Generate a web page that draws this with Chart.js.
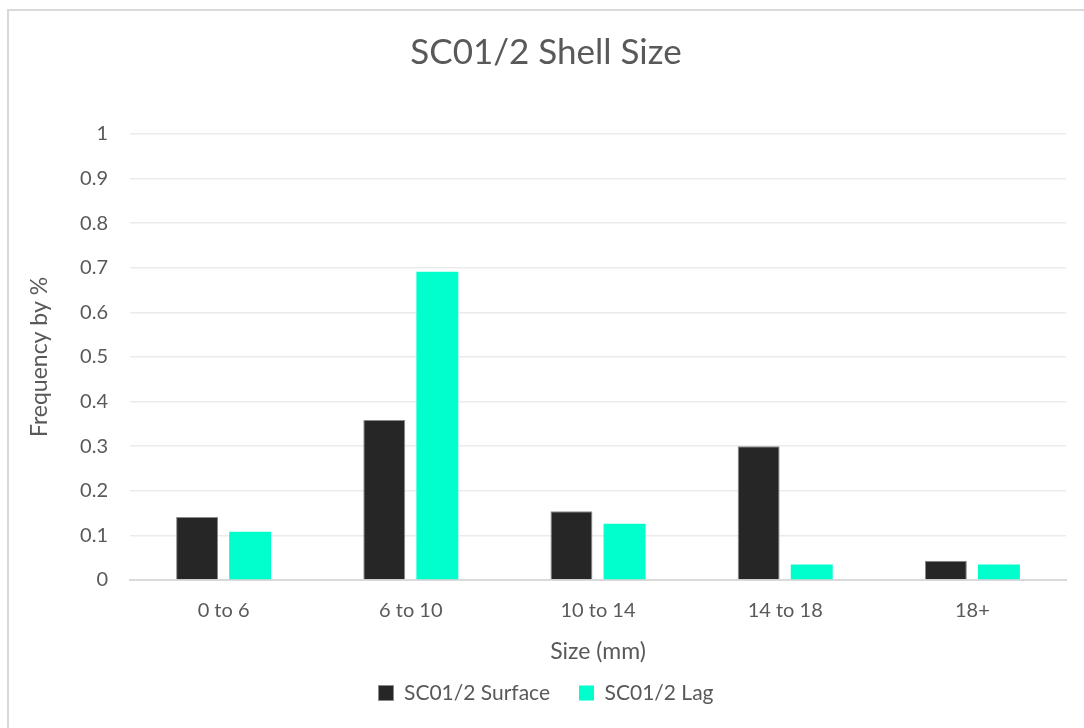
<!DOCTYPE html>
<html>
<head>
<meta charset="utf-8">
<script src="https://cdn.jsdelivr.net/npm/chart.js@4.4.1/dist/chart.umd.min.js"></script>
<style>
  html, body { margin: 0; padding: 0; background: #fff; }
  #wrap { position: relative; width: 1084px; height: 728px; overflow: hidden; }
  #frame { position: absolute; left: 7px; top: 9px; width: 1200px; height: 800px; border: 2px solid #d9d9d9; box-sizing: border-box; }
  canvas { position: absolute; left: 0; top: 0; }
</style>
</head>
<body>
<div id="wrap">
  <div id="frame"></div>
  <canvas id="chart" width="1084" height="728"></canvas>
</div>
<script>
// chart data
const categories = ["0 to 6", "6 to 10", "10 to 14", "14 to 18", "18+"];
const surfaceValues = [0.141, 0.359, 0.154, 0.300, 0.043];
const lagValues = [0.108, 0.691, 0.126, 0.035, 0.035];
const yTicks = [0, 0.1, 0.2, 0.3, 0.4, 0.5, 0.6, 0.7, 0.8, 0.9, 1];

const textColor = "#595959";
const fontFamily = "Lato, 'Open Sans', sans-serif";

Chart.defaults.font.family = fontFamily;
Chart.defaults.color = textColor;

const ctx = document.getElementById("chart");

new Chart(ctx, {
  type: "bar",
  data: {
    labels: categories,
    datasets: [
      {
        label: "SC01/2 Surface",
        data: surfaceValues,
        backgroundColor: "#262626",
        borderColor: "#8a8a8a",
        borderWidth: 1,
        categoryPercentage: 0.567,
        barPercentage: 0.79
      },
      {
        label: "SC01/2 Lag",
        data: lagValues,
        backgroundColor: "#00ffcc",
        borderWidth: 0,
        categoryPercentage: 0.567,
        barPercentage: 0.79
      }
    ]
  },
  options: {
    responsive: false,
    animation: false,
    layout: { padding: { left: 26, right: 18, top: 0, bottom: 14.5 } },
    plugins: {
      title: {
        display: true,
        text: "SC01/2 Shell Size",
        color: textColor,
        font: { size: 35, weight: "normal" },
        padding: { top: 32, bottom: 60 }
      },
      legend: {
        position: "bottom",
        labels: {
          color: textColor,
          font: { size: 21 },
          boxWidth: 15,
          boxHeight: 15,
          padding: 29
        }
      },
      tooltip: { enabled: false }
    },
    scales: {
      x: {
        afterFit: s => { s.height = 73.5; },
        grid: { display: false, drawTicks: false },
        border: { color: "#d9d9d9", width: 2 },
        ticks: { color: textColor, font: { size: 20 }, padding: 19 },
        title: {
          display: true,
          text: "Size (mm)",
          color: textColor,
          font: { size: 23 },
          padding: { top: 0, bottom: -12.3 }
        }
      },
      y: {
        min: 0,
        max: 1,
        afterBuildTicks: s => { s.ticks = yTicks.map(v => ({ value: v })); },
        afterFit: s => { s.width = 104; },
        grid: { color: "#ebebeb", lineWidth: 1.5, drawTicks: false },
        border: { display: false },
        ticks: { color: textColor, font: { size: 20 }, padding: 22, callback: v => String(v) },
        title: {
          display: true,
          text: "Frequency by %",
          color: textColor,
          font: { size: 23 },
          padding: { top: 0, bottom: 0 }
        }
      }
    }
  }
});
</script>
</body>
</html>
